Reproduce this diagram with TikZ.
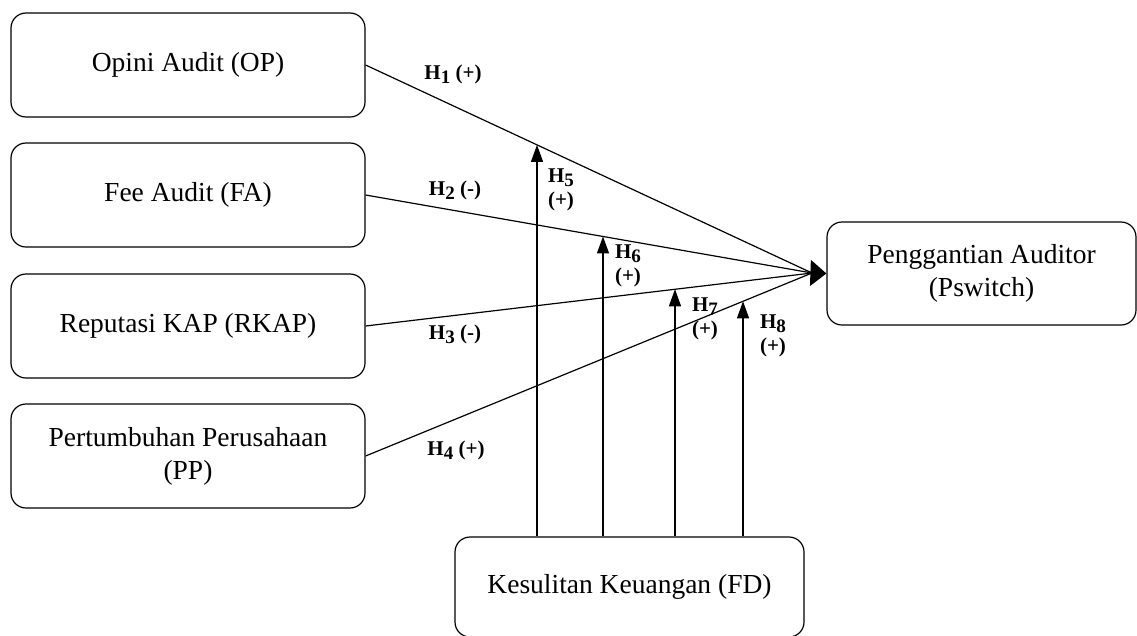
\documentclass[tikz,border=0pt]{standalone}
\usepackage{fontspec}
\setmainfont{Liberation Serif}
\usetikzlibrary{arrows.meta}
\newcommand{\hlab}[1]{H\raisebox{-4pt}{\fontsize{19}{19}\selectfont #1}}

\begin{document}
\begin{tikzpicture}[x=1pt,y=-1pt,
        box/.style={draw,line width=1.2pt,rounded corners=15pt,align=center,
            font=\fontsize{27.5}{33}\selectfont},
        link/.style={line width=1.2pt},
        mod/.style={line width=1.2pt,-{Triangle[length=17pt,width=12pt]}},
        hyp/.style={font=\bfseries\fontsize{21}{24}\selectfont,align=center}]
        \useasboundingbox (0,0) rectangle (1137,635);
        \node[box,minimum width=354pt,minimum height=104pt] (op) at (188,65) {Opini Audit (OP)};
        \node[box,minimum width=354pt,minimum height=104pt] (fa) at (188,195) {Fee Audit (FA)};
        \node[box,minimum width=354pt,minimum height=104pt] (rk) at (188,326) {Reputasi KAP (RKAP)};
        \node[box,minimum width=354pt,minimum height=104pt] (pp) at (188,456) {Pertumbuhan Perusahaan\\(PP)};
        \node[box,minimum width=309pt,minimum height=103pt] (ps) at (981.5,273.5) {Penggantian Auditor\\(Pswitch)};
        \node[box,minimum width=349pt,minimum height=100pt] (fd) at (629.5,587) {Kesulitan Keuangan (FD)};
        \coordinate (hub) at (812,273);
        \draw[link] (op.east) -- (hub);
        \draw[link] (fa.east) -- (hub);
        \draw[link] (rk.east) -- (hub);
        \draw[link] (pp.east) -- (hub);
        \draw[line width=1.2pt,-{Triangle[length=16pt,width=26pt]}] (hub) -- (ps.west);
        \coordinate (t5) at (intersection of op.east--hub and 537,0--537,600);
        \coordinate (t6) at (intersection of fa.east--hub and 603,0--603,600);
        \coordinate (t7) at (intersection of rk.east--hub and 675,0--675,600);
        \coordinate (t8) at (intersection of pp.east--hub and 743,0--743,600);
        \draw[mod] (t5 |- fd.north) -- (t5);
        \draw[mod] (t6 |- fd.north) -- (t6);
        \draw[mod] (t7 |- fd.north) -- (t7);
        \draw[mod] (t8 |- fd.north) -- (t8);
        \node[hyp] (h1) at (453,74) {\hlab{1} (+)};
        \node[hyp] (h2) at (455,190) {\hlab{2} (-)};
        \node[hyp] (h3) at (455,334) {\hlab{3} (-)};
        \node[hyp] (h4) at (456,450) {\hlab{4} (+)};
        \node[hyp] (h5) at (561,190) {\hlab{5}\\(+)};
        \node[hyp] (h6) at (628,266) {\hlab{6}\\(+)};
        \node[hyp] (h7) at (705,319) {\hlab{7}\\(+)};
        \node[hyp] (h8) at (773,336) {\hlab{8}\\(+)};
    \end{tikzpicture}
\end{document}
